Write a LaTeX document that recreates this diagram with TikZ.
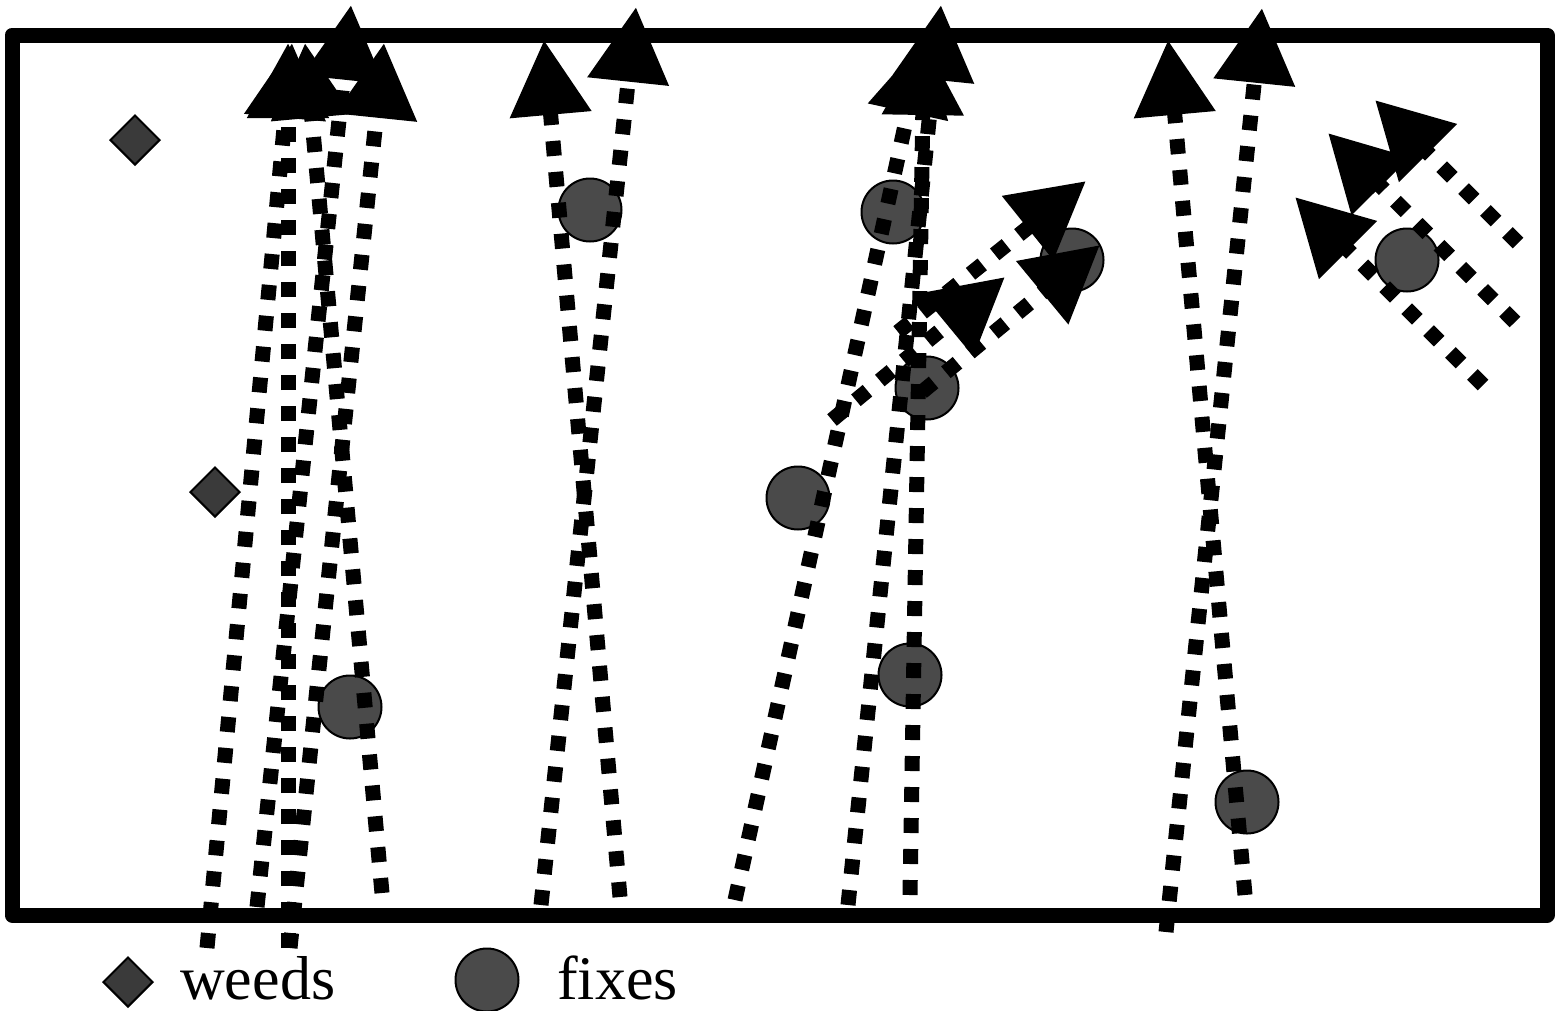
\documentclass[tikz,border=0pt]{standalone}
\usepackage{fontspec}
\setmainfont{Liberation Serif}
\usetikzlibrary{arrows.meta}
\usetikzlibrary{shapes.geometric}

\definecolor{fixgray}{RGB}{74,74,74}
\definecolor{weedgray}{RGB}{58,58,58}

\tikzset{
  track/.style={->, line width=15pt, dash pattern=on 15pt off 16pt},
  fix/.style={circle, draw, fill=fixgray, line width=2pt, minimum size=63pt, inner sep=0pt},
  weed/.style={diamond, draw, fill=weedgray, line width=2pt, minimum size=50pt, inner sep=0pt},
  legend/.style={anchor=base west, inner sep=0pt, font=\fontsize{62}{62}\selectfont},
}

\begin{document}
\begin{tikzpicture}[>={Triangle[length=75pt,width=78pt]}, x=1pt, y=-1pt]
    \useasboundingbox (0,0) rectangle (1555,1010);

    % field border
    \draw[line width=15pt, line join=round] (12,35) rectangle (1547,915);

    % weeds
    \node[weed] (w1) at (135,140) {};
    \node[weed] (w2) at (215,492) {};

    % fixes
    \node[fix] (f1) at (350,707) {};
    \node[fix] (f2) at (590,210) {};
    \node[fix] (f3) at (893,212) {};
    \node[fix] (f4) at (927,388) {};
    \node[fix] (f5) at (798,498) {};
    \node[fix] (f6) at (910,675) {};
    \node[fix] (f7) at (1072,260) {};
    \node[fix] (f8) at (1247,802) {};
    \node[fix] (f9) at (1407,260) {};

    % tracks, tail -> tip
    \foreach \sx/\sy/\tx/\ty in {207/948/292/43, 288/948/288/43, 257/907/351/5,
        382/893/305/43, 290/948/384/43, 541/905/636/7, 620/897/544/40,
        735/900/924/39, 848/905/941/5, 910/895/924/40, 1166/932/1262/8,
        1245/895/1168/40, 832/420/1005/277, 922/392/1100/245, 898/332/1086/181,
        1518/243/1375/100, 1515/322/1328/133, 1483/385/1295/197}
        \draw[track] (\sx,\sy) -- (\tx,\ty);

    % legend
    \node[weed] (lw) at (128,982) {};
    \node[legend] (lwt) at (180,999) {weeds};
    \node[fix] (lf) at (487,980) {};
    \node[legend] (lft) at (557,999) {fixes};

\end{tikzpicture}
\end{document}
